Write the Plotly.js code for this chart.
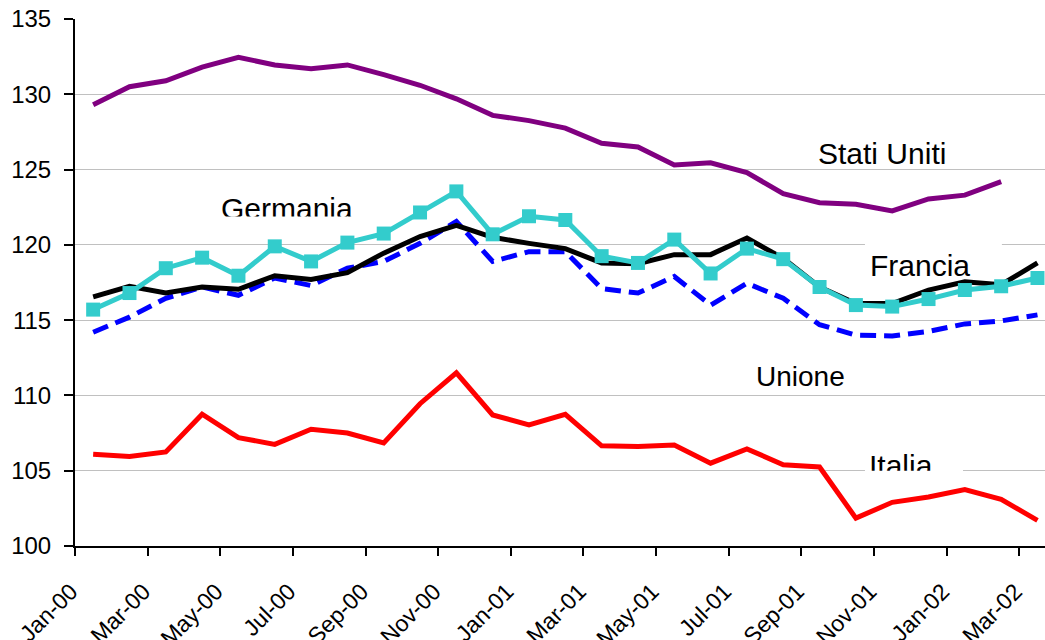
<!DOCTYPE html>
<html>
<head>
<meta charset="utf-8">
<script src="https://cdn.plot.ly/plotly-3.0.1.min.js"></script>
<style>
  html, body { margin: 0; padding: 0; background: #ffffff; }
  #chart { width: 1045px; height: 640px; }
</style>
</head>
<body>
<div id="chart"></div>
<script>
// Months (categories)
const months = ['Jan-00','Feb-00','Mar-00','Apr-00','May-00','Jun-00','Jul-00','Aug-00','Sep-00','Oct-00','Nov-00','Dec-00',
                'Jan-01','Feb-01','Mar-01','Apr-01','May-01','Jun-01','Jul-01','Aug-01','Sep-01','Oct-01','Nov-01','Dec-01',
                'Jan-02','Feb-02','Mar-02'];

// Series values
const statiUniti = [129.3,130.5,130.9,131.8,132.45,131.95,131.7,131.95,131.3,130.6,129.7,128.6,128.25,127.75,126.75,126.5,125.3,125.45,124.8,123.4,122.8,122.7,122.25,123.05,123.3,124.2,null];
const germania   = [115.7,116.8,118.45,119.15,117.95,119.9,118.9,120.15,120.75,122.15,123.55,120.7,121.9,121.65,119.25,118.8,120.35,118.1,119.75,119.05,117.2,116.0,115.9,116.4,117.0,117.25,117.8];
const francia    = [116.55,117.25,116.8,117.2,117.05,117.95,117.7,118.15,119.45,120.55,121.3,120.5,120.1,119.75,118.8,118.75,119.35,119.35,120.45,119.1,117.2,116.1,116.1,117.0,117.55,117.35,118.8];
const unione     = [114.2,115.2,116.45,117.2,116.65,117.8,117.3,118.45,118.9,120.1,121.55,118.9,119.55,119.55,117.1,116.8,117.9,116.0,117.45,116.45,114.7,114.0,113.95,114.25,114.75,114.95,115.35];
const italia     = [106.1,105.95,106.25,108.75,107.2,106.75,107.75,107.5,106.85,109.45,111.5,108.7,108.05,108.75,106.65,106.6,106.7,105.5,106.45,105.4,105.25,101.85,102.9,103.25,103.75,103.1,101.7];

// Tick labels (every second month)
const tickLabels = months.filter((m, i) => i % 2 === 0);

const xIdx = months.map((m, i) => i);
const tickPos = months.map((m, i) => i - 0.5).filter((v, i) => i % 2 === 0);

const FONT = 'Arial, "Liberation Sans", sans-serif';

const traces = [
  { x: xIdx, y: unione, mode: 'lines', name: 'Unione',
    line: { color: '#0000FF', width: 5, dash: '16px,8px' } },
  { x: xIdx, y: italia, mode: 'lines', name: 'Italia',
    line: { color: '#FF0000', width: 5 } },
  { x: xIdx, y: statiUniti, mode: 'lines', name: 'Stati Uniti',
    line: { color: '#800080', width: 5 } },
  { x: xIdx, y: francia, mode: 'lines', name: 'Francia',
    line: { color: '#000000', width: 5 } },
  { x: xIdx, y: germania, mode: 'lines+markers', name: 'Germania',
    line: { color: '#33CCCC', width: 5 },
    marker: { symbol: 'square', size: 14, color: '#33CCCC' } }
];

function ann(text, x, y, size, h) {
  const a = { text: text, x: x, y: y, xref: 'x', yref: 'y', xanchor: 'left', yanchor: 'top',
    showarrow: false, align: 'left', valign: 'top', borderpad: 0, borderwidth: 0,
    font: { family: FONT, size: size, color: '#000000' } };
  if (h) a.height = h;
  return a;
}

const layout = {
  width: 1045, height: 640,
  margin: { l: 75, r: 0, t: 19, b: 94, pad: 0 },
  paper_bgcolor: '#ffffff', plot_bgcolor: '#ffffff',
  showlegend: false,
  font: { family: FONT, size: 24, color: '#000000' },
  xaxis: {
    range: [-0.5, 26.207], showgrid: false, zeroline: false,
    showline: true, linecolor: '#000000', linewidth: 2,
    ticks: 'outside', ticklen: 8, tickwidth: 2, tickcolor: '#000000',
    tickvals: tickPos, ticktext: tickLabels, tickangle: -45,
    ticklabelstandoff: 13, ticklabelshift: -4,
    tickfont: { family: FONT, size: 23, color: '#000000' }
  },
  yaxis: {
    range: [100, 135], dtick: 5, tick0: 100, showgrid: true, gridcolor: '#c0c0c0', gridwidth: 1,
    zeroline: false, showline: true, linecolor: '#000000', linewidth: 2,
    ticks: 'outside', ticklen: 9, tickwidth: 2, tickcolor: '#000000',
    ticklabelstandoff: 8,
    tickfont: { family: FONT, size: 24, color: '#000000' }
  },
  shapes: [
    { type: 'rect', xref: 'x', yref: 'y', x0: 21.25, x1: 25.02, y0: 119.8, y1: 120.2,
      fillcolor: '#ffffff', line: { width: 0 }, layer: 'above' },
    { type: 'rect', xref: 'x', yref: 'y', x0: 21.25, x1: 23.95, y0: 104.8, y1: 105.2,
      fillcolor: '#ffffff', line: { width: 0 }, layer: 'above' }
  ],
  annotations: [
    ann('Stati Uniti', 19.97, 127.14, 30),
    ann('Germania', 3.51, 123.48, 30, 24.5),
    ann('Francia', 21.38, 119.70, 30),
    ann('Unione', 18.24, 112.29, 28),
    ann('Italia', 21.36, 106.42, 30, 21.7)
  ]
};

Plotly.newPlot('chart', traces, layout, { displayModeBar: false, staticPlot: true });
</script>
</body>
</html>
